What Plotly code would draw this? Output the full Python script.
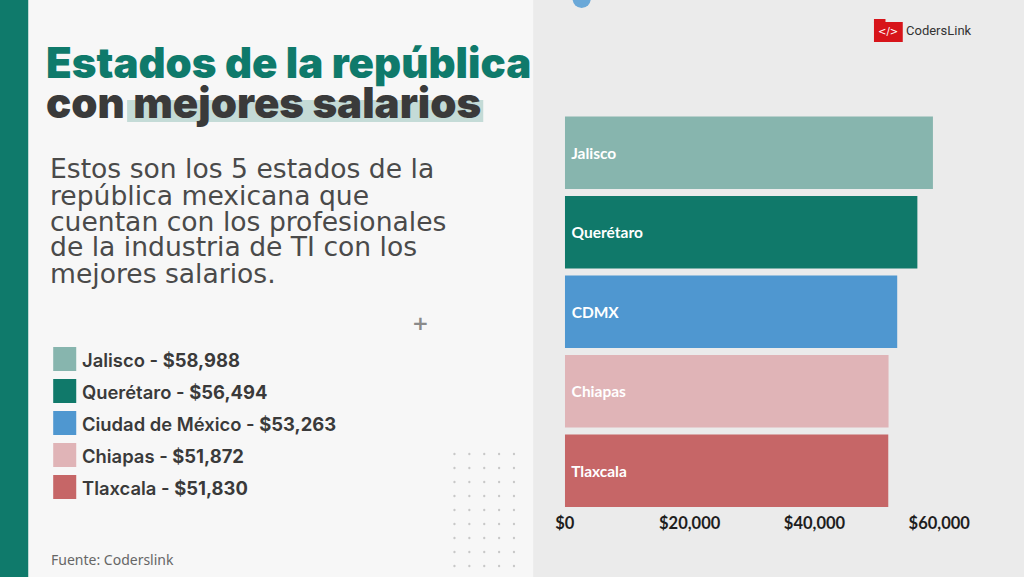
import plotly.graph_objects as go

W, H = 1024, 577

# ---- data ----
estados = ["Jalisco", "Querétaro", "CDMX", "Chiapas", "Tlaxcala"]
estados_legenda = ["Jalisco", "Querétaro", "Ciudad de México", "Chiapas", "Tlaxcala"]
salarios = [58988, 56494, 53263, 51872, 51830]
colores = ["#87b5ae", "#10796a", "#4f97d0", "#e0b4b7", "#c66667"]
tick_vals = [0, 20000, 40000, 60000]
tick_text = ["$0", "$20,000", "$40,000", "$60,000"]

titulo_1 = "Estados de la república"
titulo_2 = "con mejores salarios"
parrafo = ["Estos son los 5 estados de la",
           "república mexicana que",
           "cuentan con los profesionales",
           "de la industria de TI con los",
           "mejores salarios."]
fuente = "Fuente: Coderslink"


def px(x):
    return x / W


def py(y):
    return 1 - y / H


fig = go.Figure()
fig.add_trace(go.Bar(
    y=estados, x=salarios, orientation="h",
    marker=dict(color=colores, line=dict(width=0)),
    text=estados, texttemplate="\u00a0%{text}",
    textposition="inside", insidetextanchor="start",
    textfont=dict(family="Lato", size=15.5, color="white", weight="bold"),
    cliponaxis=False, hoverinfo="skip",
))

shapes = []
annots = []

# right panel background
shapes.append(dict(type="rect", xref="paper", yref="paper", x0=px(545), x1=1.05, y0=0, y1=1,
                   fillcolor="#ebebeb", line=dict(width=0), layer="below"))
# left stripe
shapes.append(dict(type="rect", xref="paper", yref="paper", x0=-0.05, x1=px(19), y0=0, y1=1,
                   fillcolor="#0f7a6b", line=dict(width=0), layer="below"))
# top blue circle
shapes.append(dict(type="circle", xref="paper", yref="paper", x0=px(586), x1=px(605),
                   y0=py(8), y1=py(-11), fillcolor="#6aa8d8", line=dict(width=0), layer="below"))
# title highlight
shapes.append(dict(type="rect", xref="paper", yref="paper", x0=px(122), x1=px(493),
                   y0=py(122), y1=py(100), fillcolor="#c4dbd7", line=dict(width=0), layer="below"))

# titles
annots.append(dict(text=titulo_1, x=px(35), y=py(63), xanchor="left", yanchor="middle",
                   font=dict(family="Inter", size=42, color="#0f7a6b", weight=900)))
annots.append(dict(text=titulo_2, x=px(35), y=py(102), xanchor="left", yanchor="middle",
                   font=dict(family="Inter", size=42, color="#3a3a3a", weight=900)))

# paragraph
for i, line in enumerate(parrafo):
    annots.append(dict(text=line, x=px(40), y=py(169 + i * 26), xanchor="left", yanchor="middle",
                       font=dict(family="DejaVu Sans", size=26.6, color="#4a4a4a")))

# legend
for i, (nombre, val, col) in enumerate(zip(estados_legenda, salarios, colores)):
    yc = 359 + i * 32
    shapes.append(dict(type="rect", xref="paper", yref="paper", x0=px(45), x1=px(69),
                       y0=py(yc + 12), y1=py(yc - 12), fillcolor=col, line=dict(width=0)))
    annots.append(dict(text=f"{nombre} - <b>${val:,}</b>", x=px(73), y=py(yc + 1), xanchor="left",
                       yanchor="middle", font=dict(family="Inter", size=18.4, color="#3a3a3a", weight=600)))

# plus sign
annots.append(dict(text="<b>+</b>", x=px(428), y=py(323), xanchor="center", yanchor="middle",
                   font=dict(family="DejaVu Sans", size=20, color="#8a8a8a")))

# dot grid
for r in range(9):
    for c in range(5):
        cx = 463 + c * 15.5
        cy = 454 + r * 14
        shapes.append(dict(type="circle", xref="paper", yref="paper", x0=px(cx - 1.2), x1=px(cx + 1.2),
                           y0=py(cy + 1.2), y1=py(cy - 1.2), fillcolor="#c8c8c8", line=dict(width=0)))

# source
annots.append(dict(text=fuente, x=px(41), y=py(559), xanchor="left", yanchor="middle",
                   font=dict(family="Noto Sans", size=14, color="#666666")))

# logo
shapes.append(dict(type="rect", xref="paper", yref="paper", x0=px(900), x1=px(930),
                   y0=py(42), y1=py(22), fillcolor="#d7141a", line=dict(width=0)))
shapes.append(dict(type="rect", xref="paper", yref="paper", x0=px(900), x1=px(912),
                   y0=py(23), y1=py(19), fillcolor="#d7141a", line=dict(width=0)))
annots.append(dict(text="</>", x=px(915), y=py(32), xanchor="center", yanchor="middle",
                   font=dict(family="DejaVu Sans", size=10, color="white")))
annots.append(dict(text="CodersLink", x=px(931), y=py(31), xanchor="left", yanchor="middle",
                   font=dict(family="Roboto", size=13, color="#333333")))

for a in annots:
    a.update(xref="paper", yref="paper", showarrow=False)

fig.update_layout(
    width=W, height=H, margin=dict(l=0, r=0, t=0, b=0),
    paper_bgcolor="#f7f7f7", plot_bgcolor="rgba(0,0,0,0)",
    showlegend=False, bargap=0.09,
    shapes=shapes, annotations=annots,
    xaxis=dict(domain=[px(578), px(968)], range=[0, 60000], tickvals=tick_vals, ticktext=tick_text,
               showgrid=False, zeroline=False, showline=False, ticks="", ticklabelstandoff=1,
               tickfont=dict(family="Lato", size=16.5, color="#1e1e1e", weight="bold"), fixedrange=True),
    yaxis=dict(domain=[py(510.5), py(113)], autorange="reversed", showticklabels=False,
               showgrid=False, zeroline=False, showline=False, ticks="", fixedrange=True),
)

fig.write_html("out.html", config={"displayModeBar": False})
